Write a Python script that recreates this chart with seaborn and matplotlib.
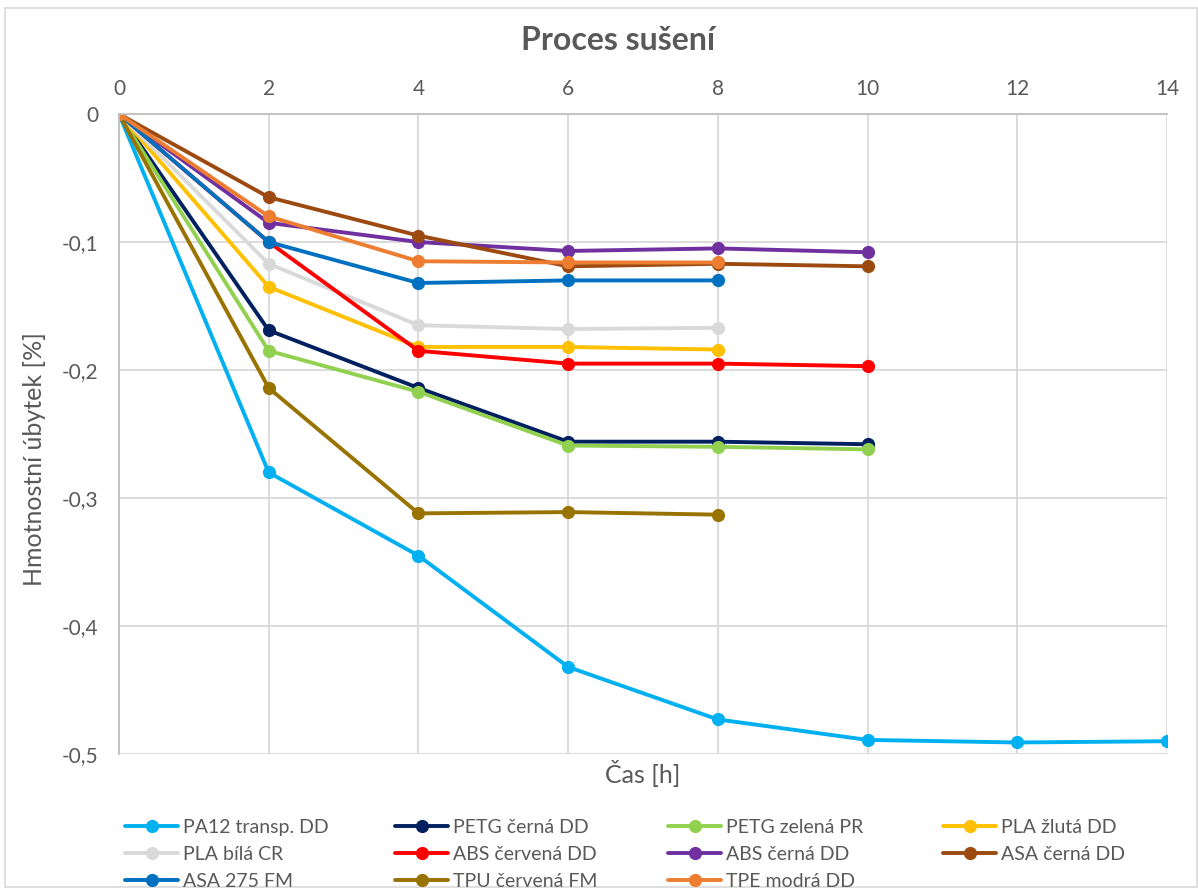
import matplotlib
matplotlib.use("Agg")
import matplotlib.pyplot as plt
from matplotlib.lines import Line2D
from matplotlib.patches import Rectangle
from matplotlib.ticker import FuncFormatter
import seaborn as sns
import pandas as pd

# Drying process: mass loss [%] over time [h]
series_names = [
    "PA12 transp. DD", "PETG černá DD", "PETG zelená PR", "PLA žlutá DD",
    "PLA bílá CR", "ABS červená DD", "ABS černá DD", "ASA černá DD",
    "ASA 275 FM", "TPU červená FM", "TPE modrá DD",
]
series_colors = [
    "#00B0F0", "#002060", "#92D050", "#FFC000",
    "#D9D9D9", "#FF0000", "#7030A0", "#9C4A10",
    "#0070C0", "#997300", "#ED7D31",
]
pa12_time = [0, 2, 4, 6, 8, 10, 12, 14]
pa12_loss = [0, -0.280, -0.345, -0.432, -0.473, -0.489, -0.491, -0.490]
petg_black_time = [0, 2, 4, 6, 8, 10]
petg_black_loss = [0, -0.169, -0.214, -0.256, -0.256, -0.258]
petg_green_time = [0, 2, 4, 6, 8, 10]
petg_green_loss = [0, -0.185, -0.217, -0.259, -0.260, -0.262]
pla_yellow_time = [0, 2, 4, 6, 8]
pla_yellow_loss = [0, -0.135, -0.182, -0.182, -0.184]
pla_white_time = [0, 2, 4, 6, 8]
pla_white_loss = [0, -0.117, -0.165, -0.168, -0.167]
abs_red_time = [0, 2, 4, 6, 8, 10]
abs_red_loss = [0, -0.100, -0.185, -0.195, -0.195, -0.197]
abs_black_time = [0, 2, 4, 6, 8, 10]
abs_black_loss = [0, -0.085, -0.100, -0.107, -0.105, -0.108]
asa_black_time = [0, 2, 4, 6, 8, 10]
asa_black_loss = [0, -0.065, -0.095, -0.119, -0.117, -0.119]
asa275_time = [0, 2, 4, 6, 8]
asa275_loss = [0, -0.100, -0.132, -0.130, -0.130]
tpu_time = [0, 2, 4, 6, 8]
tpu_loss = [0, -0.214, -0.312, -0.311, -0.313]
tpe_time = [0, 2, 4, 6, 8]
tpe_loss = [0, -0.080, -0.115, -0.116, -0.116]

series_times = [pa12_time, petg_black_time, petg_green_time, pla_yellow_time,
                pla_white_time, abs_red_time, abs_black_time, asa_black_time,
                asa275_time, tpu_time, tpe_time]
series_losses = [pa12_loss, petg_black_loss, petg_green_loss, pla_yellow_loss,
                 pla_white_loss, abs_red_loss, abs_black_loss, asa_black_loss,
                 asa275_loss, tpu_loss, tpe_loss]

rows = []
for name, ts, ls in zip(series_names, series_times, series_losses):
    for t, v in zip(ts, ls):
        rows.append({"Materiál": name, "t": t, "loss": v})
df = pd.DataFrame(rows)

sns.set_theme(style="white")
plt.rcParams["font.family"] = ["Lato", "DejaVu Sans"]
text_color = "#595959"
grid_color = "#D9D9D9"
line_w = 2.8
marker_s = 9.5

fig = plt.figure(figsize=(11.98, 8.88), dpi=100)
ax = fig.add_axes([0.0993, 0.1509, 0.8748, 0.7207])

sns.lineplot(data=df, x="t", y="loss", hue="Materiál", hue_order=series_names,
             palette=series_colors, marker="o", markersize=marker_s, markeredgewidth=0,
             linewidth=line_w, sort=False, estimator=None, legend=False, ax=ax)

ax.set_xlim(0, 14)
ax.set_ylim(-0.5, 0)
ax.set_xticks(range(0, 15, 2))
ax.set_yticks([0, -0.1, -0.2, -0.3, -0.4, -0.5])
ax.yaxis.set_major_formatter(
    FuncFormatter(lambda v, p: "0" if abs(v) < 1e-9 else f"{v:.1f}".replace(".", ",")))
ax.xaxis.tick_top()
ax.tick_params(axis="both", length=0, labelsize=15, labelcolor=text_color)
ax.tick_params(axis="x", pad=11)
ax.tick_params(axis="y", pad=15)
ax.grid(True, color=grid_color, linewidth=1.3)
ax.set_axisbelow(True)
for side in ["right", "bottom"]:
    ax.spines[side].set_visible(False)
for side in ["top", "left"]:
    ax.spines[side].set_color("#BFBFBF")
    ax.spines[side].set_linewidth(1.3)

ax.set_xlabel("")
ax.set_ylabel("")
fig.text(35 / 1198, 1 - 459 / 888, "Hmotnostní úbytek [%]", rotation=90,
         ha="center", va="center", fontsize=18, color=text_color)
fig.text(643 / 1198, 1 - 773 / 888, "Čas [h]", ha="center", va="center",
         fontsize=18, color=text_color)
fig.text(618 / 1198, 1 - 40 / 888, "Proces sušení", ha="center", va="center",
         fontsize=23, fontweight="bold", color=text_color)

# Legend laid out row by row in four equal-width columns
handles = [Line2D([], [], color=c, linewidth=line_w, marker="o", markersize=marker_s,
                  markeredgewidth=0) for c in series_colors]
column_x = [125, 395, 668, 943]
for c, x0 in enumerate(column_x):
    idx = list(range(c, len(series_names), 4))
    fig.legend([handles[i] for i in idx], [series_names[i] for i in idx],
               loc="upper left", bbox_to_anchor=(x0 / 1198, 1 - 819 / 888),
               frameon=False, fontsize=14, labelcolor=text_color,
               handlelength=2.75, handletextpad=0.25, labelspacing=0.52,
               borderpad=0, borderaxespad=0)

fig.patches.append(Rectangle((0.004, 0.001), 0.995, 0.99, transform=fig.transFigure,
                             fill=False, edgecolor="#D9D9D9", linewidth=1.2))

fig.savefig("out.png", dpi=100, facecolor="white")
